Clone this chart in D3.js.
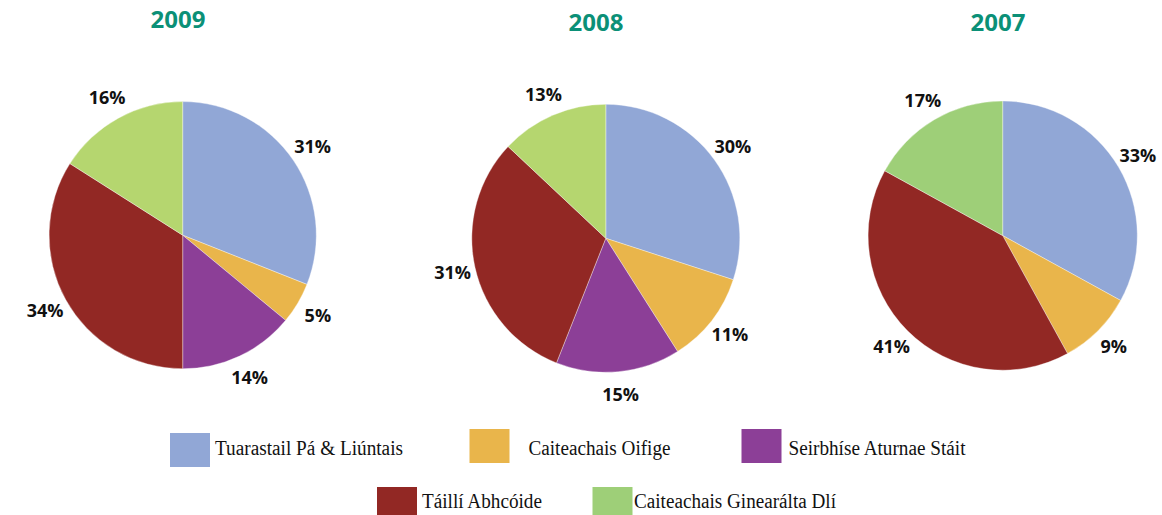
<!DOCTYPE html>
<html>
<head>
<meta charset="utf-8">
<script src="https://cdn.jsdelivr.net/npm/d3@7"></script>
<style>
  html, body { margin: 0; padding: 0; background: #fff; }
  svg { display: block; }
</style>
</head>
<body>
<svg id="chart" width="1162" height="515"></svg>
<script>
// ---- data ----
const categories = ["Tuarastail Pá & Liúntais", "Caiteachais Oifige", "Seirbhíse Aturnae Stáit", "Táillí Abhcóide", "Caiteachais Ginearálta Dlí"];
const years = ["2009", "2008", "2007"];
const values2009 = [31, 5, 14, 34, 16];
const values2008 = [30, 11, 15, 31, 13];
const values2007 = [33, 9, 0, 41, 17];

// ---- styling / layout ----
const colors = ["#91a7d6", "#e9b54b", "#8c3f97", "#922824", "#9ecf78"];
const greenAlt = "#b5d66f";
const panels = [
  { year: years[0], values: values2009, cx: 182.7, cy: 235.2, r: 133.6, tx: 178, ty: 28, green: greenAlt },
  { year: years[1], values: values2008, cx: 605.8, cy: 238.3, r: 134, tx: 596, ty: 30.5, green: greenAlt },
  { year: years[2], values: values2007, cx: 1002.7, cy: 235.6, r: 134.6, tx: 998, ty: 30.5, green: colors[4] }
];

const svg = d3.select("#chart");
const pie = d3.pie().sort(null).value(d => d.v);
const arc = d3.arc().innerRadius(0);
const labelR = 157;
const labelArc = d3.arc().innerRadius(labelR).outerRadius(labelR);

panels.forEach(p => {
  const data = p.values.map((v, i) => ({ v, i, cat: categories[i] }));
  const arcs = pie(data);
  const g = svg.append("g").attr("transform", `translate(${p.cx},${p.cy})`);
  const colorOf = i => (i === 4 ? p.green : colors[i]);

  g.selectAll("path.slice")
    .data(arcs.filter(a => a.data.v > 0))
    .join("path")
    .attr("class", "slice")
    .attr("d", a => arc.outerRadius(p.r)(a))
    .attr("fill", a => colorOf(a.data.i))
    .attr("stroke", "#ffffff")
    .attr("stroke-width", 0.6)
    .attr("stroke-opacity", 0.6);

  g.selectAll("text.pct")
    .data(arcs.filter(a => a.data.v > 0))
    .join("text")
    .attr("class", "pct")
    .attr("transform", a => {
      const c = labelArc.centroid(a);
      return `translate(${c[0]},${c[1]})`;
    })
    .attr("text-anchor", "middle")
    .attr("dy", "0.36em")
    .attr("font-family", "'Open Sans', sans-serif")
    .attr("font-weight", 700)
    .attr("font-size", 18)
    .attr("fill", "#111")
    .text(a => a.data.v + "%");

  svg.append("text")
    .attr("x", p.tx)
    .attr("y", p.ty)
    .attr("text-anchor", "middle")
    .attr("font-family", "'Open Sans', sans-serif")
    .attr("font-weight", 700)
    .attr("font-size", 24)
    .attr("fill", "#0b9077")
    .text(p.year);
});

// ---- legend ----
const legendLayout = [
  { sx: 170, sy: 433, tx: 215, ty: 455, w: 188 },
  { sx: 469.5, sy: 429, tx: 528.5, ty: 455, w: 142 },
  { sx: 741.5, sy: 429, tx: 788.5, ty: 455, w: 177 },
  { sx: 377, sy: 487, tx: 422, ty: 507.5, w: 120 },
  { sx: 592.5, sy: 487, tx: 634, ty: 507.5, w: 202 }
];
const legend = svg.append("g");
categories.forEach((c, i) => {
  const L = legendLayout[i];
  legend.append("rect")
    .attr("x", L.sx).attr("y", L.sy)
    .attr("width", 40).attr("height", 34)
    .attr("fill", colors[i]);
  legend.append("text")
    .attr("x", L.tx).attr("y", L.ty)
    .attr("font-family", "'Liberation Serif', 'Times New Roman', serif")
    .attr("font-size", 20)
    .attr("fill", "#111")
    .attr("textLength", L.w)
    .attr("lengthAdjust", "spacingAndGlyphs")
    .text(c);
});
</script>
</body>
</html>
